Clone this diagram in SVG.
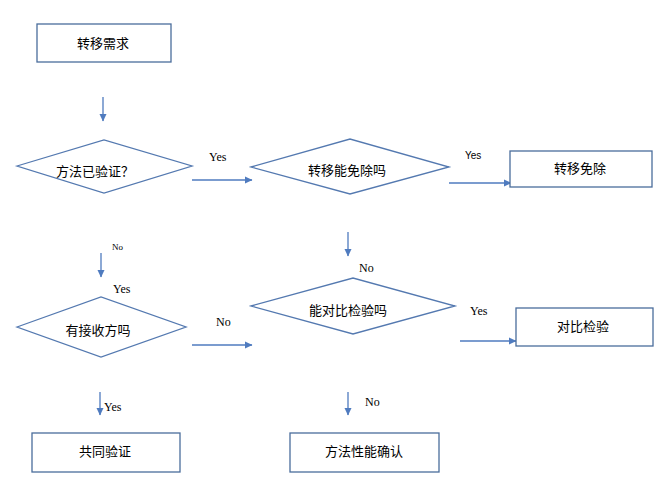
<svg xmlns="http://www.w3.org/2000/svg" width="662" height="484" viewBox="0 0 662 484">
<style>
.box{fill:#fff;stroke:#4A6D9C;stroke-width:1.3}
.dia{fill:#fff;stroke:#5479B0;stroke-width:1.3}
.t{font-family:"Noto Sans CJK SC","Noto Sans CJK JP",sans-serif;font-size:13px;fill:#000;text-anchor:middle;dominant-baseline:central}
.l{font-family:"Liberation Serif",serif;font-size:12px;fill:#000}
.ls{font-family:"Liberation Sans",sans-serif;font-size:10px;fill:#000}
.c{stroke:#4F7BBF;stroke-width:1.3;fill:none;marker-end:url(#ah)}
</style>
<defs>
<marker id="ah" markerWidth="8" markerHeight="8" refX="7" refY="4" orient="auto" markerUnits="userSpaceOnUse">
<path d="M0,0.5 L7.5,4 L0,7.5 Z" fill="#4F7BBF"/>
</marker>
</defs>
<rect width="662" height="484" fill="#fff"/>
<g id="connectors">
<line class="c" x1="103" y1="97" x2="103" y2="121"/>
<line class="c" x1="192" y1="180" x2="252" y2="180"/>
<line class="c" x1="449" y1="183" x2="511" y2="183"/>
<line class="c" x1="348" y1="232" x2="348" y2="256"/>
<line class="c" x1="460" y1="341" x2="516" y2="341"/>
<line class="c" x1="348" y1="392" x2="348" y2="415"/>
<line class="c" x1="101" y1="253" x2="101" y2="277"/>
<line class="c" x1="192" y1="345" x2="252" y2="345"/>
<line class="c" x1="100" y1="392" x2="100" y2="415"/>
<text class="l" x="209" y="161">Yes</text>
<text class="ls" x="465" y="159">Yes</text>
<text class="l" x="359" y="272">No</text>
<text class="l" x="470" y="315">Yes</text>
<text class="l" x="365" y="406">No</text>
<text class="l" x="112" y="250" style="font-size:9px">No</text>
<text class="l" x="113" y="293">Yes</text>
<text class="l" x="216" y="326">No</text>
<text class="l" x="104" y="411">Yes</text>
</g>
<g id="n1"><rect class="box" x="37" y="24" width="134" height="38"/><text class="t" x="103" y="42">转移需求</text></g>
<g id="n2"><polygon class="dia" points="17,166 104,140 192,166 104,193"/><text class="t" x="95" y="170">方法已验证？</text></g>
<g id="n3"><polygon class="dia" points="251,167 350,139 449,167 350,194"/><text class="t" x="347" y="169">转移能免除吗</text></g>
<g id="n4"><rect class="box" x="510" y="151" width="142" height="36"/><text class="t" x="580" y="167">转移免除</text></g>
<g id="n5"><polygon class="dia" points="251,306 353,278 455,306 353,334"/><text class="t" x="348" y="309">能对比检验吗</text></g>
<g id="n6"><rect class="box" x="516" y="308" width="137" height="38"/><text class="t" x="583" y="325">对比检验</text></g>
<g id="n7"><polygon class="dia" points="17,327 101,297 186,327 101,357"/><text class="t" x="98" y="329">有接收方吗</text></g>
<g id="n8"><rect class="box" x="32" y="433" width="148" height="39"/><text class="t" x="105" y="450">共同验证</text></g>
<g id="n9"><rect class="box" x="290" y="433" width="149" height="39"/><text class="t" x="364" y="450">方法性能确认</text></g>
</svg>
